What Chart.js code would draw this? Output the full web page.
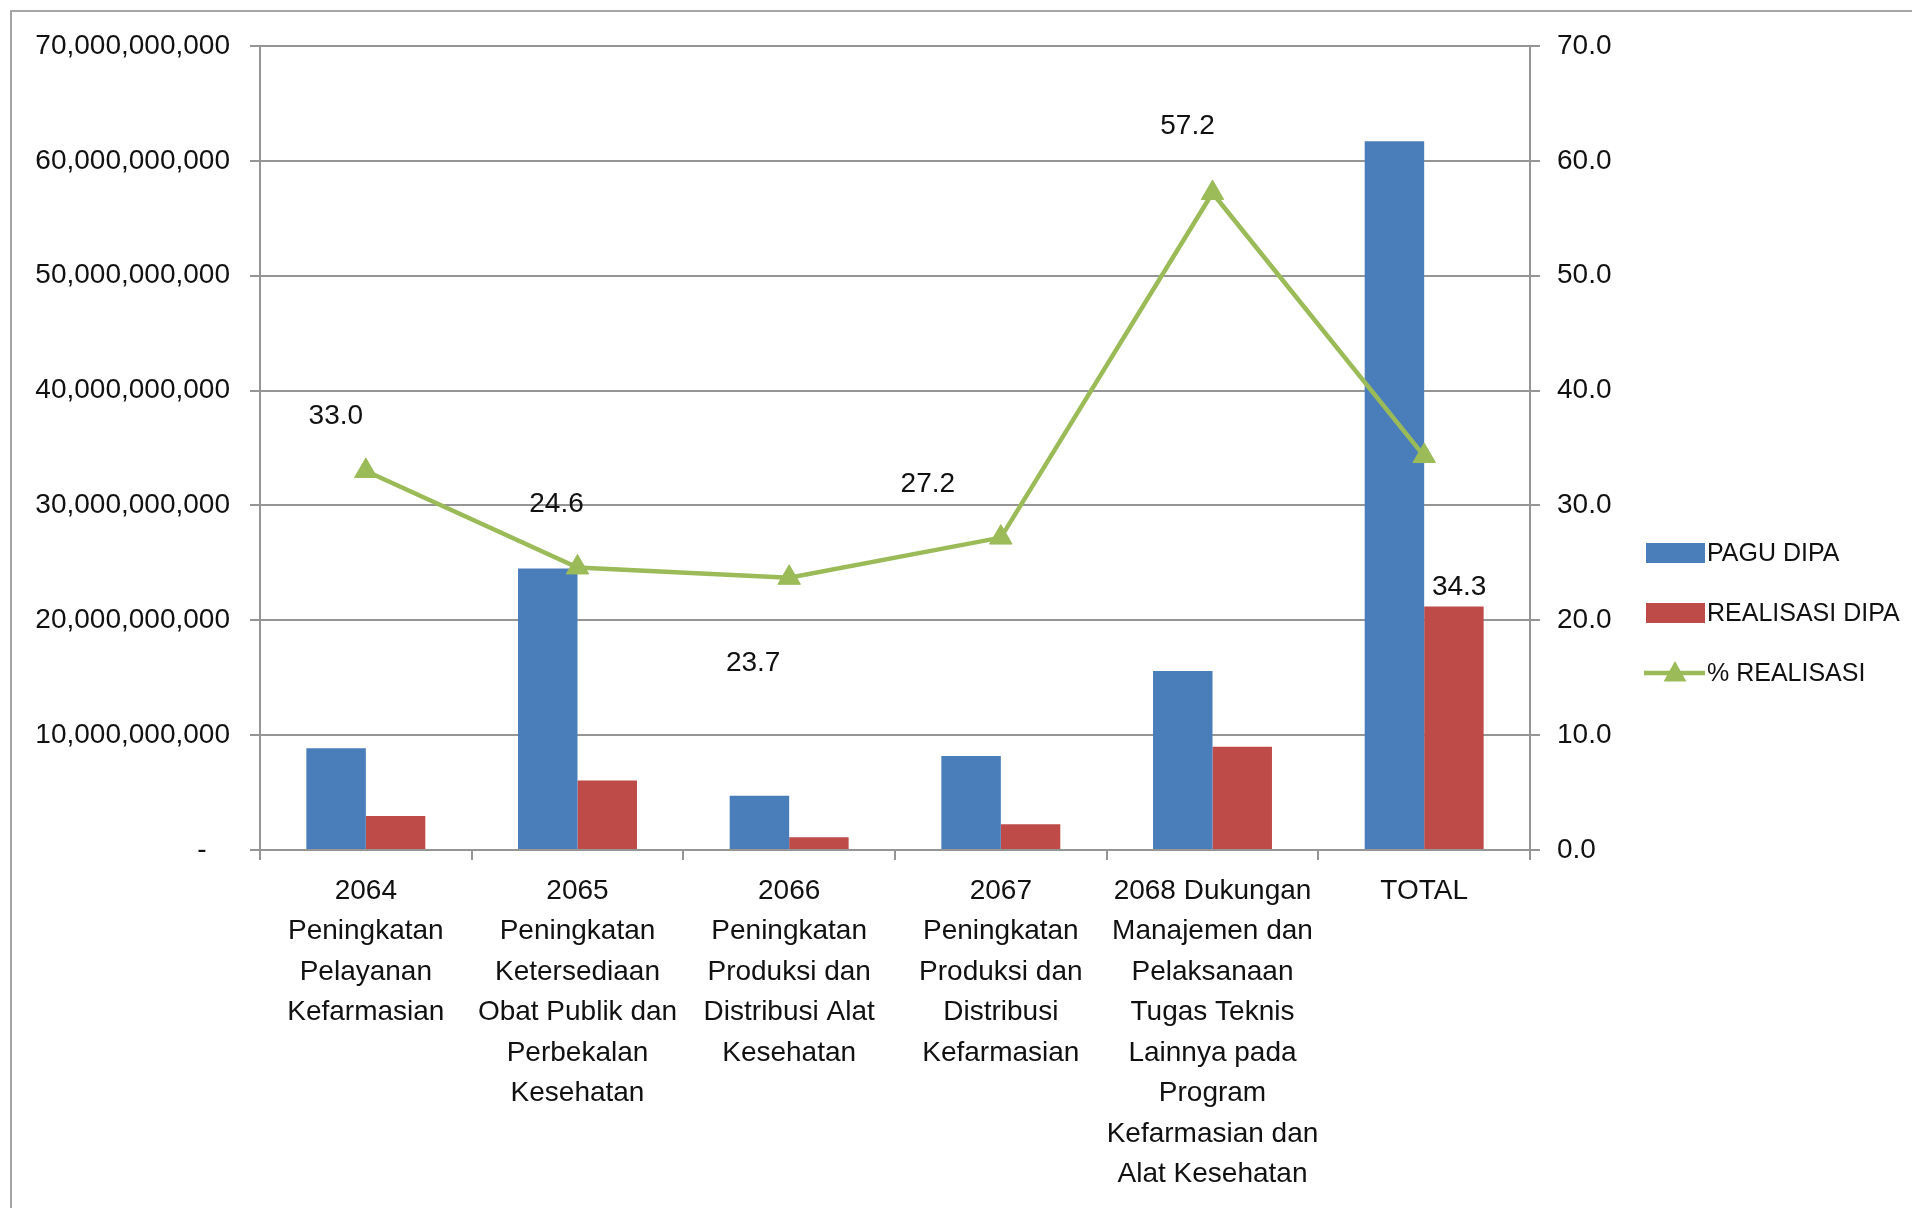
<!DOCTYPE html>
<html>
<head>
<meta charset="utf-8">
<script src="https://cdn.jsdelivr.net/npm/chart.js@4.4.0/dist/chart.umd.min.js"></script>
<style>
html,body{margin:0;padding:0;background:#fff;}
#wrap{width:1912px;height:1208px;position:relative;}
</style>
</head>
<body>
<div id="wrap"><canvas id="chart"></canvas></div>
<script>
const categories = [
  ["2064","Peningkatan","Pelayanan","Kefarmasian"],
  ["2065","Peningkatan","Ketersediaan","Obat Publik dan","Perbekalan","Kesehatan"],
  ["2066","Peningkatan","Produksi dan","Distribusi Alat","Kesehatan"],
  ["2067","Peningkatan","Produksi dan","Distribusi","Kefarmasian"],
  ["2068 Dukungan","Manajemen dan","Pelaksanaan","Tugas Teknis","Lainnya pada","Program","Kefarmasian dan","Alat Kesehatan"],
  ["TOTAL"]
];
const paguDipa = [8850000000, 24500000000, 4730000000, 8180000000, 15580000000, 61700000000];
const realisasiDipa = [2950000000, 6050000000, 1120000000, 2250000000, 9000000000, 21200000000];
const pctRealisasi = [33.0, 24.6, 23.7, 27.2, 57.2, 34.3];
const seriesNames = ["PAGU DIPA", "REALISASI DIPA", "% REALISASI"];

// hand-placed data label offsets (px from the marker), like the original
const labelShift = [[-30,-55],[-21,-63],[-36,85],[-73,-53],[-25,-67],[35,131]];

const FONT = "'Liberation Sans', Arial, sans-serif";
const FS = 28;
const BLUE = "#4A7EBB", RED = "#BE4B48", GREEN = "#9BBB59", GRID = "#959595";

Chart.defaults.font.family = FONT;
Chart.defaults.font.size = FS;
Chart.defaults.color = "#111";

function triangle(ctx, x, y, r){
  ctx.beginPath();
  ctx.moveTo(x, y - r);
  ctx.lineTo(x + r*0.95, y + r*0.7);
  ctx.lineTo(x - r*0.95, y + r*0.7);
  ctx.closePath();
  ctx.fill();
}

const framePlugin = {
  id: "frame",
  beforeDraw(chart){
    const ctx = chart.ctx;
    ctx.save();
    ctx.fillStyle = "#fff";
    ctx.fillRect(0, 0, chart.width, chart.height);
    ctx.strokeStyle = "#a6a6a6";
    ctx.lineWidth = 2;
    ctx.strokeRect(11, 11, chart.width + 50, chart.height + 50);
    ctx.restore();
  }
};

const pctLabels = {
  id: "pctLabels",
  afterDatasetsDraw(chart){
    const ctx = chart.ctx;
    const meta = chart.getDatasetMeta(2);
    ctx.save();
    ctx.font = `${FS}px ${FONT}`;
    ctx.fillStyle = "#111";
    ctx.textAlign = "center";
    ctx.textBaseline = "middle";
    meta.data.forEach((pt, i) => {
      ctx.fillText(pctRealisasi[i].toFixed(1), pt.x + labelShift[i][0], pt.y + labelShift[i][1]);
    });
    ctx.restore();
  }
};

const sideLegend = {
  id: "sideLegend",
  afterDraw(chart){
    const ctx = chart.ctx;
    const a = chart.chartArea;
    const x0 = a.right + 116, y0 = a.top + 507;
    ctx.save();
    ctx.font = `25px ${FONT}`;
    ctx.textBaseline = "middle";
    ctx.textAlign = "left";
    seriesNames.forEach((name, i) => {
      const y = y0 + i*60;
      if(i < 2){
        ctx.fillStyle = i === 0 ? BLUE : RED;
        ctx.fillRect(x0, y - 10, 59, 20);
      } else {
        ctx.strokeStyle = GREEN;
        ctx.lineWidth = 4.5;
        ctx.beginPath(); ctx.moveTo(x0 - 2, y); ctx.lineTo(x0 + 59, y); ctx.stroke();
        ctx.fillStyle = GREEN;
        triangle(ctx, x0 + 29, y, 12);
      }
      ctx.fillStyle = "#111";
      ctx.fillText(name, x0 + 61, y + 1);
    });
    ctx.restore();
  }
};

new Chart(document.getElementById("chart"), {
  data: {
    labels: categories,
    datasets: [
      { type: "bar", label: seriesNames[0], data: paguDipa, backgroundColor: BLUE, yAxisID: "y", order: 1,
        categoryPercentage: 0.562, barPercentage: 1.0 },
      { type: "bar", label: seriesNames[1], data: realisasiDipa, backgroundColor: RED, yAxisID: "y", order: 1,
        categoryPercentage: 0.562, barPercentage: 1.0 },
      { type: "line", label: seriesNames[2], data: pctRealisasi, yAxisID: "y1", order: 0,
        borderColor: GREEN, backgroundColor: GREEN, borderWidth: 4.5, tension: 0,
        pointStyle: "triangle", pointRadius: 13, pointBorderWidth: 1 }
    ]
  },
  options: {
    responsive: true,
    maintainAspectRatio: false,
    animation: false,
    layout: { padding: { left: 10, right: 262, top: 46, bottom: 0 } },
    plugins: { legend: { display: false }, tooltip: { enabled: false } },
    scales: {
      x: {
        grid: { drawOnChartArea: false, drawTicks: true, tickLength: 10, color: GRID, lineWidth: 2 },
        border: { color: GRID, width: 2 },
        ticks: { padding: 11, maxRotation: 0, autoSkip: false, color: "#111", font: { size: FS, lineHeight: 1.446 } },
        afterFit(s){ s.height = 358; }
      },
      y: {
        position: "left",
        min: 0, max: 70000000000,
        ticks: { stepSize: 10000000000, padding: 20, color: "#111",
          callback: v => v === 0 ? "-   " : Number(v).toLocaleString("en-US") },
        grid: { color: GRID, lineWidth: 2, tickLength: 10 },
        border: { color: GRID, width: 2 },
        afterFit(s){ s.width = 250; }
      },
      y1: {
        position: "right",
        min: 0, max: 70,
        ticks: { stepSize: 10, padding: 17, color: "#111", callback: v => Number(v).toFixed(1) },
        grid: { drawOnChartArea: false, color: GRID, lineWidth: 2, tickLength: 10 },
        border: { color: GRID, width: 2 },
        afterFit(s){ s.width = 120; }
      }
    }
  },
  plugins: [framePlugin, pctLabels, sideLegend]
});
</script>
</body>
</html>
